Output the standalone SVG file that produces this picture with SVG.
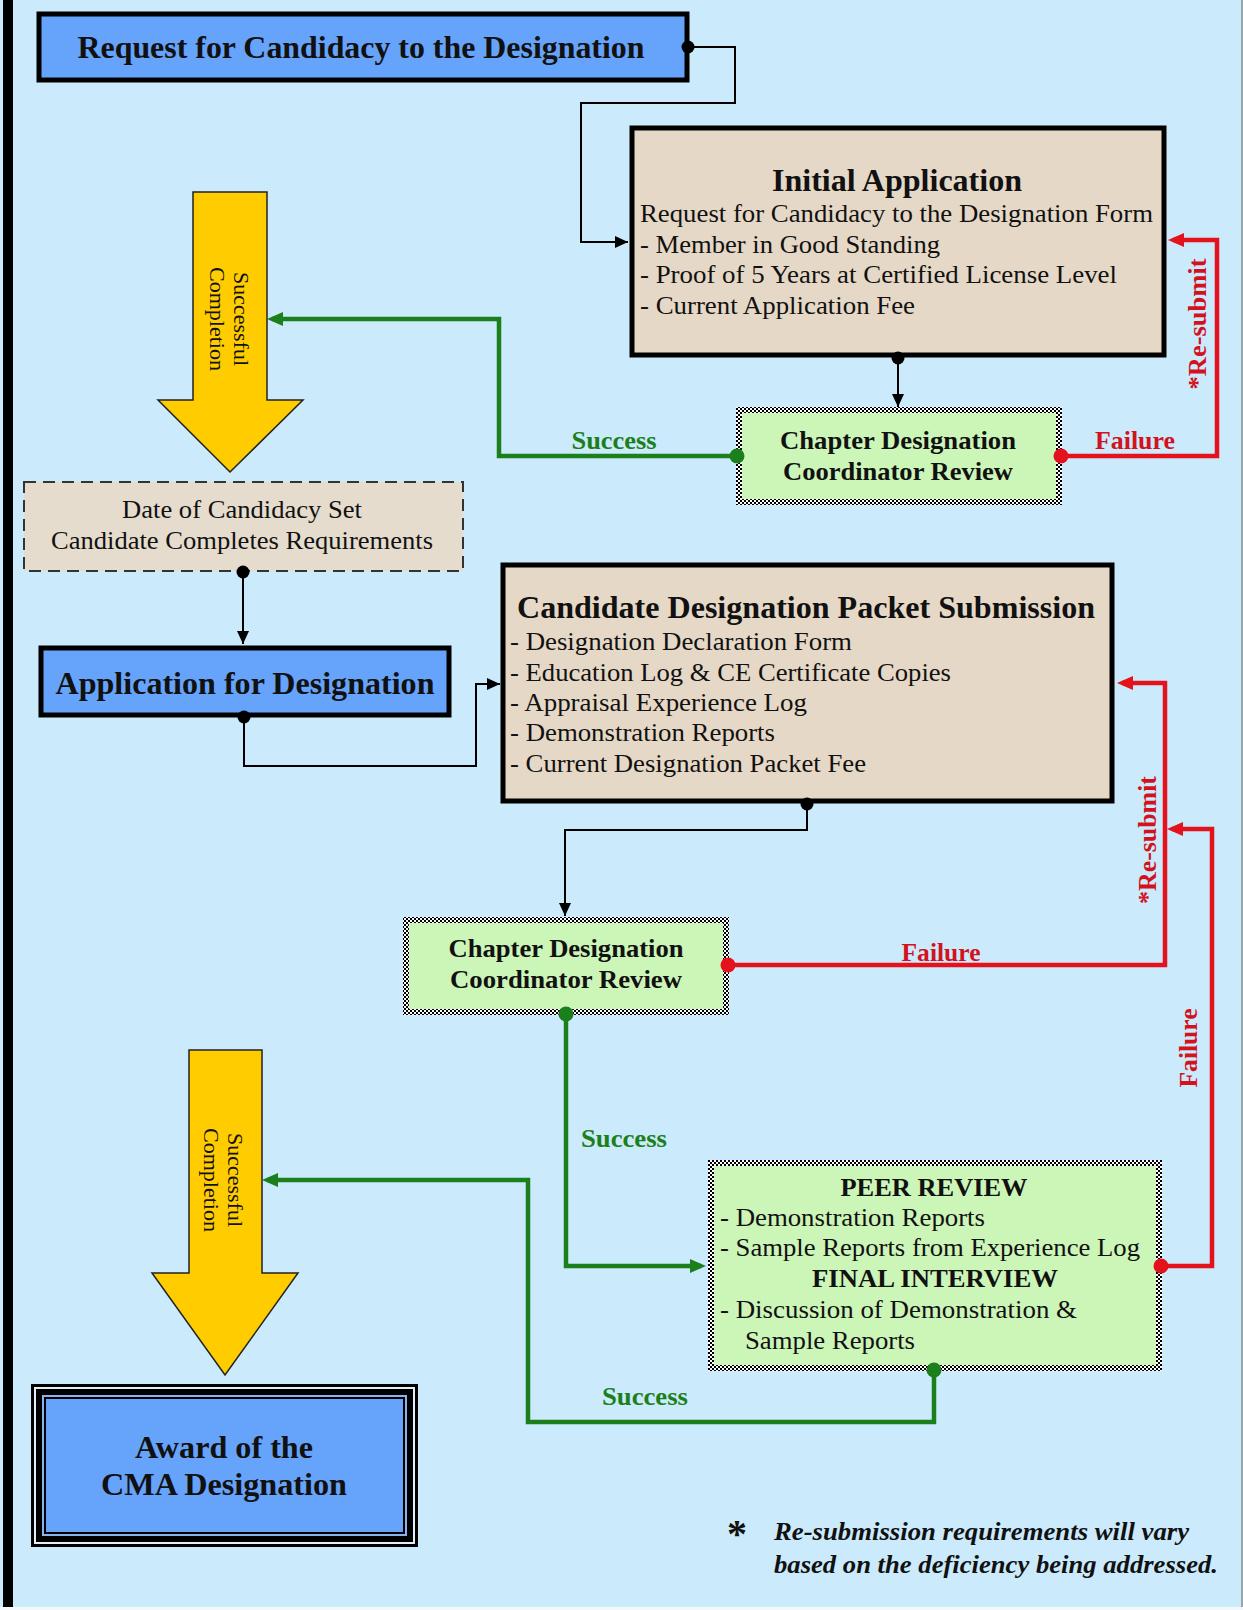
<svg xmlns="http://www.w3.org/2000/svg" width="1243" height="1610" viewBox="0 0 1243 1610">
<defs>
<style>
.t{font-family:"Liberation Serif","Times New Roman",serif;fill:#111;}
.b{font-weight:bold;}
.bi{font-weight:bold;font-style:italic;}
.blue{fill:#66A3FA;stroke:#000;stroke-width:5;}
.tan{fill:#E6D8C6;stroke:#000;stroke-width:5;}
.grn{fill:#CCF5B8;stroke:url(#checker);stroke-width:6;}
.yel{fill:#FFCC00;stroke:#222;stroke-width:1.5;}
.ck{fill:none;stroke:#000;stroke-width:2;}
.cg{fill:none;stroke:#1B801B;stroke-width:4.5;}
.cr{fill:none;stroke:#E3121C;stroke-width:4.5;}
.lg{font-family:"Liberation Serif","Times New Roman",serif;font-weight:bold;fill:#1B801B;}
.lr{font-family:"Liberation Serif","Times New Roman",serif;font-weight:bold;fill:#D3121C;}
</style>
<pattern id="checker" patternUnits="userSpaceOnUse" width="4" height="4">
<rect width="4" height="4" fill="#fff"/>
<rect width="2" height="2" fill="#000"/>
<rect x="2" y="2" width="2" height="2" fill="#000"/>
</pattern>
<marker id="ak" markerUnits="userSpaceOnUse" markerWidth="13" markerHeight="12" viewBox="0 0 13 12" refX="13" refY="6" orient="auto"><path d="M0,0 L13,6 L0,12 Z" fill="#000"/></marker>
<marker id="ag" markerUnits="userSpaceOnUse" markerWidth="16" markerHeight="14" viewBox="0 0 16 14" refX="11" refY="7" orient="auto"><path d="M0,0 L16,7 L0,14 Z" fill="#1B801B"/></marker>
<marker id="ar" markerUnits="userSpaceOnUse" markerWidth="16" markerHeight="14" viewBox="0 0 16 14" refX="11" refY="7" orient="auto"><path d="M0,0 L16,7 L0,14 Z" fill="#E3121C"/></marker>
<marker id="dk" markerUnits="userSpaceOnUse" markerWidth="14" markerHeight="14" viewBox="0 0 14 14" refX="7" refY="7"><circle cx="7" cy="7" r="6.5" fill="#000"/></marker>
<marker id="dg" markerUnits="userSpaceOnUse" markerWidth="16" markerHeight="16" viewBox="0 0 16 16" refX="8" refY="8"><circle cx="8" cy="8" r="7.5" fill="#1B801B"/></marker>
<marker id="dr" markerUnits="userSpaceOnUse" markerWidth="16" markerHeight="16" viewBox="0 0 16 16" refX="8" refY="8"><circle cx="8" cy="8" r="7.5" fill="#E3121C"/></marker>
</defs>

<rect width="1243" height="1610" fill="#CBEAFC"/>
<rect x="3" y="0" width="10" height="1608" fill="#000"/>
<rect x="1241" y="0" width="2" height="1610" fill="#9aa4ad"/>
<rect x="0" y="1607" width="1243" height="3" fill="#f4f8fb"/>

<g id="request-candidacy">
<rect class="blue" x="39" y="14" width="648" height="66"/>
<text class="t b" x="361" y="58" font-size="32" text-anchor="middle" textLength="567" lengthAdjust="spacingAndGlyphs">Request for Candidacy to the Designation</text>
</g>

<g id="initial-application">
<rect class="tan" x="632" y="128" width="532" height="227"/>
<text class="t b" x="897" y="191" font-size="32" text-anchor="middle" textLength="250" lengthAdjust="spacingAndGlyphs">Initial Application</text>
<text class="t" x="640" y="222" font-size="26" textLength="513" lengthAdjust="spacingAndGlyphs">Request for Candidacy to the Designation Form</text>
<text class="t" x="640" y="253" font-size="26" textLength="300" lengthAdjust="spacingAndGlyphs">- Member in Good Standing</text>
<text class="t" x="640" y="283" font-size="26" textLength="477" lengthAdjust="spacingAndGlyphs">- Proof of 5 Years at Certified License Level</text>
<text class="t" x="640" y="314" font-size="26" textLength="275" lengthAdjust="spacingAndGlyphs">- Current Application Fee</text>
</g>

<g id="chapter-review-1">
<rect class="grn" x="739" y="410" width="320" height="92"/>
<text class="t b" x="898" y="449" font-size="26" text-anchor="middle" textLength="236" lengthAdjust="spacingAndGlyphs">Chapter Designation</text>
<text class="t b" x="898" y="480" font-size="26" text-anchor="middle" textLength="230" lengthAdjust="spacingAndGlyphs">Coordinator Review</text>
</g>

<g id="successful-completion-1">
<path class="yel" d="M193,192 H267 V400 H303 L230,472 L158,400 H193 Z"/>
<text class="t" transform="translate(234,319) rotate(90)" font-size="22" text-anchor="middle">Successful</text>
<text class="t" transform="translate(210,319) rotate(90)" font-size="22" text-anchor="middle">Completion</text>
</g>

<g id="date-of-candidacy">
<rect x="24" y="482" width="439" height="89" fill="#E6DCCD" stroke="#333" stroke-width="2" stroke-dasharray="12,7"/>
<text class="t" x="242" y="518" font-size="26" text-anchor="middle" textLength="240" lengthAdjust="spacingAndGlyphs">Date of Candidacy Set</text>
<text class="t" x="242" y="549" font-size="26" text-anchor="middle" textLength="382" lengthAdjust="spacingAndGlyphs">Candidate Completes Requirements</text>
</g>

<g id="application-for-designation">
<rect class="blue" x="41" y="648" width="408" height="67"/>
<text class="t b" x="245" y="694" font-size="32" text-anchor="middle" textLength="379" lengthAdjust="spacingAndGlyphs">Application for Designation</text>
</g>

<g id="packet-submission">
<rect class="tan" x="503" y="565" width="609" height="236"/>
<text class="t b" x="806" y="618" font-size="32" text-anchor="middle" textLength="578" lengthAdjust="spacingAndGlyphs">Candidate Designation Packet Submission</text>
<text class="t" x="510" y="650" font-size="26" textLength="342" lengthAdjust="spacingAndGlyphs">- Designation Declaration Form</text>
<text class="t" x="510" y="681" font-size="26" textLength="441" lengthAdjust="spacingAndGlyphs">- Education Log &amp; CE Certificate Copies</text>
<text class="t" x="510" y="711" font-size="26" textLength="297" lengthAdjust="spacingAndGlyphs">- Appraisal Experience Log</text>
<text class="t" x="510" y="741" font-size="26" textLength="265" lengthAdjust="spacingAndGlyphs">- Demonstration Reports</text>
<text class="t" x="510" y="772" font-size="26" textLength="356" lengthAdjust="spacingAndGlyphs">- Current Designation Packet Fee</text>
</g>

<g id="chapter-review-2">
<rect class="grn" x="406" y="920" width="320" height="92"/>
<text class="t b" x="566" y="957" font-size="26" text-anchor="middle" textLength="235" lengthAdjust="spacingAndGlyphs">Chapter Designation</text>
<text class="t b" x="566" y="988" font-size="26" text-anchor="middle" textLength="232" lengthAdjust="spacingAndGlyphs">Coordinator Review</text>
</g>

<g id="peer-review">
<rect class="grn" x="711" y="1163" width="448" height="205"/>
<text class="t b" x="934" y="1196" font-size="26" text-anchor="middle" textLength="187" lengthAdjust="spacingAndGlyphs">PEER REVIEW</text>
<text class="t" x="720" y="1226" font-size="26" textLength="265" lengthAdjust="spacingAndGlyphs">- Demonstration Reports</text>
<text class="t" x="720" y="1256" font-size="26" textLength="420" lengthAdjust="spacingAndGlyphs">- Sample Reports from Experience Log</text>
<text class="t b" x="935" y="1287" font-size="26" text-anchor="middle" textLength="246" lengthAdjust="spacingAndGlyphs">FINAL INTERVIEW</text>
<text class="t" x="720" y="1318" font-size="26" textLength="357" lengthAdjust="spacingAndGlyphs">- Discussion of Demonstration &amp;</text>
<text class="t" x="745" y="1349" font-size="26" textLength="170" lengthAdjust="spacingAndGlyphs">Sample Reports</text>
</g>

<g id="successful-completion-2">
<path class="yel" d="M189,1050 H262 V1273 H298 L225,1375 L152,1273 H189 Z"/>
<text class="t" transform="translate(228,1180) rotate(90)" font-size="22" text-anchor="middle">Successful</text>
<text class="t" transform="translate(204,1180) rotate(90)" font-size="22" text-anchor="middle">Completion</text>
</g>

<g id="award">
<rect x="31" y="1384" width="387" height="163" fill="#000"/>
<rect x="34" y="1387" width="381" height="157" fill="#E4EEFA"/>
<rect x="36" y="1389" width="377" height="153" fill="#000"/>
<rect x="42" y="1395" width="365" height="141" fill="#8AB2EE"/>
<rect x="44" y="1397" width="361" height="137" fill="#000"/>
<rect x="46" y="1399" width="357" height="133" fill="#66A3FA"/>
<text class="t b" x="224" y="1458" font-size="31" text-anchor="middle" textLength="178" lengthAdjust="spacingAndGlyphs">Award of the</text>
<text class="t b" x="224" y="1495" font-size="31" text-anchor="middle" textLength="246" lengthAdjust="spacingAndGlyphs">CMA Designation</text>
</g>

<g id="footnote">
<text class="t b" x="737" y="1547" font-size="40" text-anchor="middle">*</text>
<text class="t bi" x="774" y="1540" font-size="25" textLength="415" lengthAdjust="spacingAndGlyphs">Re-submission requirements will vary</text>
<text class="t bi" x="774" y="1573" font-size="25" textLength="444" lengthAdjust="spacingAndGlyphs">based on the deficiency being addressed.</text>
</g>

<g id="connectors">
<path class="ck" d="M688,47 H735 V103 H581 V242 H628" marker-start="url(#dk)" marker-end="url(#ak)"/>
<path class="ck" d="M898,358 V407" marker-start="url(#dk)" marker-end="url(#ak)"/>
<path class="cg" d="M737,456 H499 V319 H272" marker-start="url(#dg)" marker-end="url(#ag)"/>
<path class="cr" d="M1061,456 H1217 V240 H1173" marker-start="url(#dr)" marker-end="url(#ar)"/>
<path class="ck" d="M243,572 V644" marker-start="url(#dk)" marker-end="url(#ak)"/>
<path class="ck" d="M244,717 V766 H476 V684 H500" marker-start="url(#dk)" marker-end="url(#ak)"/>
<path class="ck" d="M807,804 V830 H565 V916" marker-start="url(#dk)" marker-end="url(#ak)"/>
<path class="cr" d="M728,965 H1165 V683 H1122" marker-start="url(#dr)" marker-end="url(#ar)"/>
<path class="cr" d="M1161,1266 H1212 V829 H1172" marker-start="url(#dr)" marker-end="url(#ar)"/>
<path class="cg" d="M566,1014 V1266 H701" marker-start="url(#dg)" marker-end="url(#ag)"/>
<path class="cg" d="M934,1370 V1422 H528 V1180 H267" marker-start="url(#dg)" marker-end="url(#ag)"/>
<text class="lg" x="614" y="449" font-size="25" text-anchor="middle" textLength="85" lengthAdjust="spacingAndGlyphs">Success</text>
<text class="lr" x="1135" y="449" font-size="25" text-anchor="middle" textLength="80" lengthAdjust="spacingAndGlyphs">Failure</text>
<text class="lr" transform="translate(1206,324) rotate(-90)" font-size="26" text-anchor="middle" textLength="131" lengthAdjust="spacingAndGlyphs">*Re-submit</text>
<text class="lr" x="941" y="961" font-size="25" text-anchor="middle" textLength="79" lengthAdjust="spacingAndGlyphs">Failure</text>
<text class="lr" transform="translate(1156,840) rotate(-90)" font-size="26" text-anchor="middle" textLength="128" lengthAdjust="spacingAndGlyphs">*Re-submit</text>
<text class="lr" transform="translate(1197,1048) rotate(-90)" font-size="25" text-anchor="middle" textLength="79" lengthAdjust="spacingAndGlyphs">Failure</text>
<text class="lg" x="624" y="1147" font-size="25" text-anchor="middle" textLength="86" lengthAdjust="spacingAndGlyphs">Success</text>
<text class="lg" x="645" y="1405" font-size="25" text-anchor="middle" textLength="86" lengthAdjust="spacingAndGlyphs">Success</text>
</g>
</svg>
